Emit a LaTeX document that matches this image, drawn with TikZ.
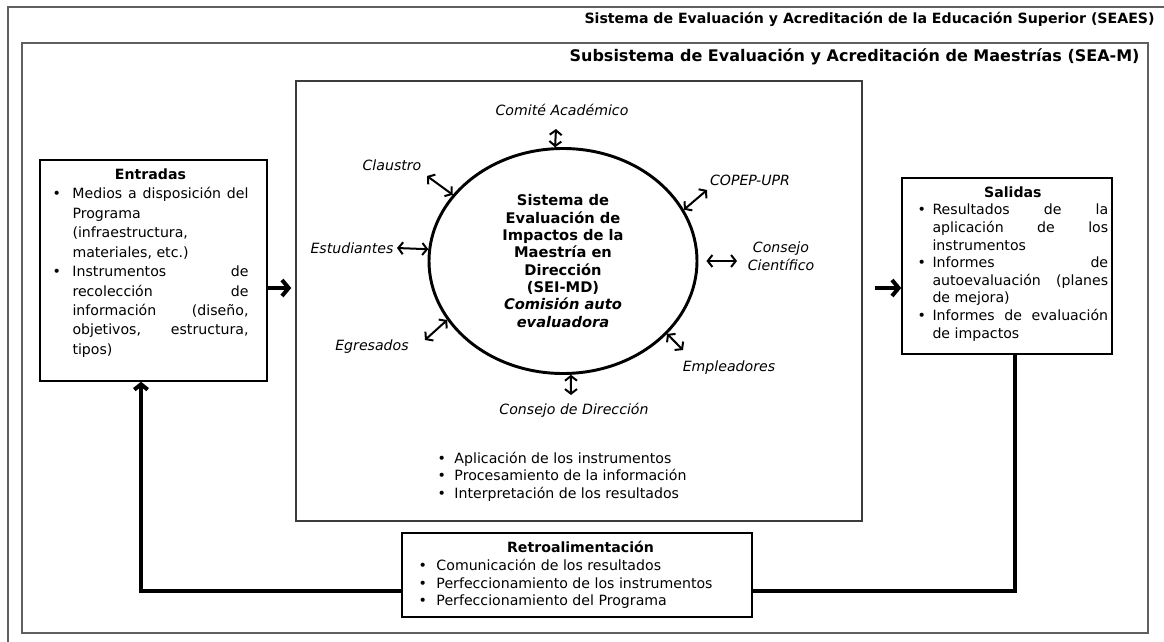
\documentclass[tikz,border=0pt]{standalone}
\usepackage{fontspec}
\setmainfont{DejaVu Sans}
\usetikzlibrary{fit,shapes.geometric,arrows.meta}
\definecolor{grismarco}{RGB}{96,96,96}
\definecolor{griscaja}{RGB}{60,60,60}
\hbadness=10000
\newcommand{\vineta}[1]{\par\leftskip=#1\noindent\llap{\makebox[#1][l]{\textbullet}}\ignorespaces}

\tikzset{every picture/.style={line width=0.75pt}}
\tikzset{
  marco/.style={draw=grismarco, line width=1.5pt},
  caja/.style={draw, line width=1.1pt, inner sep=0pt},
  rotulo/.style={font=\fontsize{10.6pt}{13.5pt}\selectfont\itshape, align=center, inner sep=0pt},
  lista/.style={inner sep=0pt, anchor=north west, align=justify, font=\fontsize{10.6pt}{13.2pt}\selectfont},
  titulo/.style={anchor=east, inner sep=0pt, font=\fontsize{10.6pt}{12pt}\selectfont\bfseries},
  doble/.style={line width=1.5pt, {Straight Barb[length=3.5pt,width=9pt]}-{Straight Barb[length=3.5pt,width=9pt]}},
  flujo/.style={line width=3pt, -{Straight Barb[length=5pt,width=12pt]}},
  lazo/.style={line width=3pt},
}

\begin{document}
\begin{tikzpicture}[x=0.75pt,y=0.75pt,yscale=-1,xscale=1]
	\useasboundingbox (0,0) rectangle (1164,642);

	%Frames
	\draw[marco] (8,642) -- (8,7) -- (1164,7);
	\draw[marco] (22,43) rectangle (1148,633);
	% Text Node
	\node[titulo] (seaes) at (1155,19) {Sistema de Evaluación y Acreditación de la Educación Superior (SEAES)};
	% Text Node
	\node[titulo, font=\fontsize{12pt}{13pt}\selectfont\bfseries] (seam) at (1140,57) {Subsistema de Evaluación y Acreditación de Maestrías (SEA-M)};

	%Boxes
	\node[caja, draw=griscaja, fit={(296,81) (862,521)}] (centro) {};
	\node[caja, fit={(40,160) (267,381)}] (entradas) {};
	\node[caja, fit={(902,178) (1112,354)}] (salidas) {};
	\node[caja, fit={(402,533) (752,617)}] (retro) {};

	% Text Node
	\node[lista, font=\fontsize{10.6pt}{14.6pt}\selectfont, text width=147pt] (txtentradas) at (52,168) {{\centering\bfseries Entradas\par}%
	\vineta{15pt}Medios a disposición del\linebreak Programa\linebreak (infraestructura,\linebreak materiales, etc.)%
	\vineta{15pt}Instrumentos de\linebreak recolección de\linebreak información (diseño,\linebreak objetivos, estructura,\linebreak tipos)\par};
	% Text Node
	\node[lista, text width=143pt] (txtsalidas) at (917,186) {{\centering\bfseries Salidas\par}%
	\vineta{11.25pt}Resultados de la\linebreak aplicación de los\linebreak instrumentos%
	\vineta{11.25pt}Informes de\linebreak autoevaluación (planes\linebreak de mejora)%
	\vineta{11.25pt}Informes de evaluación\linebreak de impactos\par};
	% Text Node
	\node[lista, text width=230pt] (tareas) at (437,445) {\vineta{12.75pt}Aplicación de los instrumentos%
	\vineta{12.75pt}Procesamiento de la información%
	\vineta{12.75pt}Interpretación de los resultados\par};
	% Text Node
	\node[lista, text width=243pt] (txtretro) at (418,541) {{\centering\bfseries Retroalimentación\par}%
	\vineta{13.5pt}Comunicación de los resultados%
	\vineta{13.5pt}Perfeccionamiento de los instrumentos%
	\vineta{13.5pt}Perfeccionamiento del Programa\par};

	%Ellipse
	\node[draw, ellipse, line width=2.2pt, minimum width=201pt, minimum height=168.75pt, inner sep=0pt, align=center, font=\fontsize{11pt}{13pt}\selectfont\bfseries] (elipse) at (563,261) {Sistema de\\Evaluación de\\Impactos de la\\Maestría en\\Dirección\\(SEI-MD)\\\textit{Comisión auto}\\\textit{evaluadora}};

	% Text Node
	\node[rotulo] (comite) at (562,110) {Comité Académico};
	\node[rotulo] (claustro) at (392,165) {Claustro};
	\node[rotulo] (copep) at (750,180) {COPEP-UPR};
	\node[rotulo] (estudiantes) at (352,248) {Estudiantes};
	\node[rotulo] (cientifico) at (781,256) {Consejo\\Científico};
	\node[rotulo] (egresados) at (372,347) {Egresados};
	\node[rotulo] (empleadores) at (729,368) {Empleadores};
	\node[rotulo] (direccion) at (574,410) {Consejo de Dirección};

	\coordinate (comite-p) at (556,129);
	\coordinate (claustro-p) at (427,176);
	\coordinate (copep-p) at (707,190);
	\coordinate (estudiantes-p) at (397,248);
	\coordinate (cientifico-p) at (737,261);
	\coordinate (egresados-p) at (425,340);
	\coordinate (empleadores-p) at (683,350);
	\coordinate (direccion-p) at (571,395);

	%Double arrows
	\draw[doble] (comite-p) -- (elipse.94);
	\draw[doble] (claustro-p) -- (elipse.149);
	\draw[doble] (copep-p) -- (elipse.23);
	\draw[doble] (estudiantes-p) -- (elipse.175);
	\draw[doble, shorten <=6pt] (elipse.east) -- (cientifico-p);
	\draw[doble] (egresados-p) -- (elipse.207);
	\draw[doble] (empleadores-p) -- (elipse.325);
	\draw[doble] (direccion-p) -- (elipse.274);

	%Flow
	\coordinate (eje) at (0,288);
	\draw[flujo, shorten >=3pt] (entradas.east |- eje) -- (centro.west |- eje);
	\draw[flujo, shorten <=9pt] (centro.east |- eje) -- (salidas.west |- eje);

	%Feedback
	\coordinate (vuelta-d) at (1015,591);
	\coordinate (vuelta-i) at (141,591);
	\draw[lazo] (salidas.south -| vuelta-d) -- (vuelta-d) -- (retro.east |- vuelta-d);
	\draw[lazo, -{Straight Barb[length=4pt,width=10pt]}] (retro.west |- vuelta-i) -- (vuelta-i) -- (entradas.south -| vuelta-i);

\end{tikzpicture}
\end{document}
